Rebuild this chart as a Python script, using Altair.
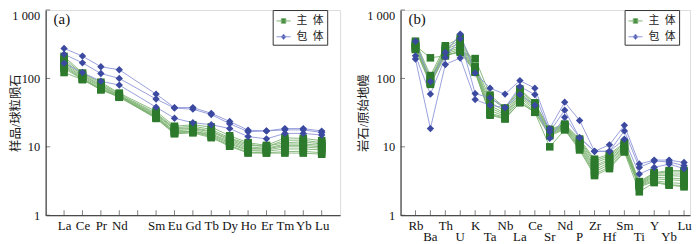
import altair as alt
import pandas as pd

# ---------------- data ----------------
REE = ["La", "Ce", "Pr", "Nd", "Pm", "Sm", "Eu", "Gd", "Tb", "Dy", "Ho", "Er", "Tm", "Yb", "Lu"]
REE_LABELS = ["La", "Ce", "Pr", "Nd", "", "Sm", "Eu", "Gd", "Tb", "Dy", "Ho", "Er", "Tm", "Yb", "Lu"]
REE_USED = ["La", "Ce", "Pr", "Nd", "Sm", "Eu", "Gd", "Tb", "Dy", "Ho", "Er", "Tm", "Yb", "Lu"]

SPIDER = ["Rb", "Ba", "Th", "U", "K", "Ta", "Nb", "La", "Ce", "Sr",
          "Nd", "P", "Zr", "Hf", "Sm", "Ti", "Y", "Yb", "Lu"]

# (a) chondrite-normalised REE, 主体 (host)
ree_main_1 = [210, 120, 88, 61, 33, 20, 21, 19.5, 14.5, 11.5, 10.5, 13.5, 13.3, 12.3]
ree_main_2 = [195, 116, 84, 59, 31, 19, 20, 18, 13.5, 11, 10, 12.5, 12.5, 11.5]
ree_main_3 = [182, 112, 80, 57, 30, 18.5, 19, 17, 13, 10.5, 10.2, 11.5, 11.8, 11]
ree_main_4 = [170, 108, 78, 56, 29, 18, 18.5, 16.5, 12.5, 10, 9.5, 11, 11, 10.5]
ree_main_5 = [162, 104, 75, 55, 28, 17, 18, 15.5, 12, 9.5, 9.3, 10.5, 10.5, 10]
ree_main_6 = [155, 100, 72, 54, 27.5, 16.5, 17, 15, 11.5, 9, 9, 10, 10, 9.5]
ree_main_7 = [148, 98, 70, 54, 27, 16, 17, 14.5, 11, 8.8, 8.6, 9.3, 9.3, 9]
ree_main_8 = [140, 97, 69, 53, 26.5, 15.8, 16.5, 14, 10.5, 8.3, 8.2, 8.5, 8.6, 8.2]
ree_main_9 = [122, 96, 68, 54, 26, 15.5, 16, 13.6, 10.2, 8.1, 8.1, 8.1, 8.1, 7.8]
# (a) 包体 (enclave)
ree_encl_1 = [275, 212, 148, 134, 59, 37.5, 37.5, 30.9, 23.5, 17.5, 17.1, 18.5, 18.5, 17.0]
ree_encl_2 = [226, 169, 118, 100, 50, 36.9, 35.5, 29.6, 21.8, 16.6, 17.1, 17.7, 17.7, 16.2]
ree_encl_3 = [167, 122, 91, 80, 38, 26.2, 22.5, 21.1, 18.5, 14.1, 13.1, 15.7, 15.7, 14.9]

# (b) primitive-mantle-normalised spider, 主体
spd_main_1 = [300, 200, 215, 250, 195, 57, 37, 70, 44, 18, 21.5, 13, 6.6, 7.8, 11.5, 3.1, 4.2, 4.5, 4.5]
spd_main_2 = [350, 110, 300, 390, 150, 52, 36, 66, 43, 17.5, 21, 12.5, 6.2, 7.4, 11, 3.0, 4.1, 4.3, 4.3]
spd_main_3 = [330, 100, 280, 360, 145, 45, 33, 62, 41, 17, 20.5, 12, 5.8, 7.0, 10.5, 2.9, 4.0, 4.0, 4.0]
spd_main_4 = [310, 95, 265, 330, 140, 40, 31, 58, 39, 16.5, 20, 11.5, 5.3, 6.6, 10, 2.85, 3.8, 3.8, 3.7]
spd_main_5 = [295, 90, 250, 300, 135, 37, 29.5, 55, 37, 16, 19.5, 11, 5.0, 6.3, 9.7, 2.8, 3.6, 3.5, 3.4]
spd_main_6 = [285, 88, 240, 280, 130, 34, 28, 52, 35, 15.5, 19, 10.5, 4.6, 5.9, 9.3, 2.75, 3.4, 3.3, 3.2]
spd_main_7 = [275, 85, 228, 265, 128, 31, 27, 48, 33, 15, 18.5, 10, 4.3, 5.5, 9.0, 2.7, 3.2, 3.0, 2.9]
spd_main_8 = [265, 82, 215, 250, 125, 29, 25.5, 45, 32, 14.5, 18, 9.5, 4.0, 5.1, 8.7, 2.6, 3.1, 2.8, 2.7]
spd_main_9 = [270, 100, 220, 240, 123, 30, 26, 44, 32, 10, 17.7, 9.0, 3.8, 4.8, 8.4, 2.2, 3.0, 2.75, 2.6]
# (b) 包体
spd_encl_1 = [350, 90, 239, 445, 120, 72, 59, 93, 72, 18.5, 45, 24.3, 8.6, 10.7, 20.6, 5.6, 6.4, 6.4, 5.9]
spd_encl_2 = [214, 59, 203, 382, 60, 52, 37.5, 76, 58, 16.6, 34.4, 13.6, 8.6, 8.6, 17.1, 5.0, 6.2, 6.0, 5.3]
spd_encl_3 = [192, 18.5, 160, 199, 49, 40.5, 37.5, 58, 40.5, 13.3, 27, 13.6, 8.6, 8.6, 12.9, 4.0, 5.0, 5.6, 4.8]

GROUPS = ["主体", "包体"]
Y_TICKS = [1, 10, 100, 1000]

# ---------------- styling ----------------
FONT = "'Liberation Serif', 'Times New Roman', 'DejaVu Serif', 'Noto Sans CJK SC', serif"
G_FILL, G_LINE = "#2d7a2d", "#7db372"
B_FILL, B_LINE = "#3b4aa0", "#8d95d8"
FRAME = "#4a4a4a"
H = 207


def build_df(main, encl, names, used):
    rows = []
    for g, lst in ((GROUPS[0], main), (GROUPS[1], encl)):
        for k, vals in enumerate(lst):
            for el, v in zip(used, vals):
                rows.append({"group": g, "series": f"{g}{k}", "pos": names.index(el), "value": v})
    return pd.DataFrame(rows)


df_a = build_df([ree_main_1, ree_main_2, ree_main_3, ree_main_4, ree_main_5,
                 ree_main_6, ree_main_7, ree_main_8, ree_main_9],
                [ree_encl_1, ree_encl_2, ree_encl_3], REE, REE_USED)
df_b = build_df([spd_main_1, spd_main_2, spd_main_3, spd_main_4, spd_main_5,
                 spd_main_6, spd_main_7, spd_main_8, spd_main_9],
                [spd_encl_1, spd_encl_2, spd_encl_3], SPIDER, SPIDER)

SQ_PATH = "M-1,0H1M-0.32,-0.32H0.32V0.32H-0.32Z"
DM_PATH = "M-1,0H1M0,-0.38L0.34,0L0,0.38L-0.34,0Z"


def panel(df, names, xdom, width, ytitle, tag, label_expr, bottom_labels, title_x, legend_x):
    x = alt.X("pos:Q",
              scale=alt.Scale(domain=xdom, nice=False, zero=False),
              axis=alt.Axis(values=list(range(len(names))), labelExpr=label_expr,
                            title=None, grid=False, ticks=False,
                            labelFont=FONT, labelFontSize=13, labelColor="#111",
                            labelPadding=4, labelFlush=False,
                            domainColor=FRAME, domainWidth=1.3))
    y = alt.Y("value:Q",
              scale=alt.Scale(type="log", domain=[1, 1000], nice=False),
              axis=alt.Axis(values=Y_TICKS,
                            labelExpr="datum.value == 1000 ? '1 000' : datum.value + ''",
                            labelBaseline={"condition": {"test": "datum.value == 1000", "value": "top"},
                                           "value": "middle"},
                            title=ytitle, titleFont=FONT, titleFontSize=12.5,
                            titleFontWeight="normal", titleColor="#222",
                            titleX=title_x, titleY=H / 2, titleAngle=270,
                            titleAlign="center", titleBaseline="middle",
                            grid=False, ticks=False, labelFont=FONT, labelFontSize=12.5,
                            labelColor="#111", labelPadding=6, labelFlush=False,
                            domainColor=FRAME, domainWidth=1.3))
    base = alt.Chart(df)
    is_main = alt.datum.group == GROUPS[0]
    is_encl = alt.datum.group == GROUPS[1]

    g_lines = base.transform_filter(is_main).mark_line(stroke=G_LINE, strokeWidth=0.9).encode(
        x=x, y=y, detail="series:N", order="pos:Q")
    b_lines = base.transform_filter(is_encl).mark_line(stroke=B_LINE, strokeWidth=0.9).encode(
        x=x, y=y, detail="series:N", order="pos:Q")
    g_pts = base.transform_filter(is_main).mark_point(
        shape="square", filled=True, fill=G_FILL, size=58, opacity=1).encode(x=x, y=y)
    b_pts = base.transform_filter(is_encl).mark_point(
        shape="diamond", filled=True, fill=B_FILL, size=55, opacity=1).encode(x=x, y=y)

    leg = alt.Legend(title=None, orient="none", legendX=legend_x, legendY=0,
                     strokeColor="#333", fillColor="white", padding=3,
                     symbolSize=200, symbolStrokeWidth=1, symbolOpacity=1,
                     labelFont=FONT, labelFontSize=11, labelColor="#222",
                     labelOffset=5, rowPadding=3,
                     labelExpr="datum.label == '主体' ? '主\u2002体\u3000\u2002' : '包\u2002体\u3000\u2002'")
    legend_layer = base.mark_point(filled=True, opacity=0).encode(
        x=x, y=y,
        shape=alt.Shape("group:N", scale=alt.Scale(domain=GROUPS, range=[SQ_PATH, DM_PATH]), legend=leg),
        fill=alt.Fill("group:N", scale=alt.Scale(domain=GROUPS, range=[G_FILL, B_FILL]), legend=leg),
        stroke=alt.Stroke("group:N", scale=alt.Scale(domain=GROUPS, range=[G_LINE, B_LINE]), legend=leg),
    )

    xt = pd.DataFrame({"pos": list(range(len(names)))})
    x_ticks = alt.Chart(xt).mark_tick(orient="vertical", size=5, thickness=1, color=FRAME).encode(
        x=x, y=alt.value(H - 2.5))
    yt = pd.DataFrame({"value": Y_TICKS})
    y_ticks = alt.Chart(yt).mark_tick(orient="horizontal", size=4.5, thickness=1, color=FRAME).encode(
        y=y, x=alt.value(2.25))

    tag_df = pd.DataFrame({"t": [tag]})
    tag_text = alt.Chart(tag_df).mark_text(font=FONT, fontSize=15, align="left", baseline="middle",
                                           color="#111").encode(
        text="t:N", x=alt.value(8), y=alt.value(9))

    layers = [g_lines, b_lines, g_pts, b_pts, legend_layer, x_ticks, y_ticks, tag_text]
    if bottom_labels is not None:
        bl = alt.Chart(bottom_labels).mark_text(font=FONT, fontSize=13, baseline="middle",
                                                align="center", color="#111").encode(
            x=x, y=alt.value(H + 22), text="name:N")
        layers.append(bl)
    return alt.layer(*layers).properties(width=width, height=H)


ree_expr = "[" + ",".join(f"'{s}'" for s in REE_LABELS) + "][datum.value]"
spd_expr = ("datum.value % 2 == 0 ? [" + ",".join(f"'{s}'" for s in SPIDER) +
            "][datum.value] : ''")
odd = [i for i in range(len(SPIDER)) if i % 2 == 1]
bottom_df = pd.DataFrame({"pos": odd, "name": [SPIDER[i] for i in odd]})

title_a = "样品/球粒陨石"
title_b = "岩石/原始地幔"

pa = panel(df_a, REE, [-1, 15], 297, title_a, "(a)", ree_expr, None, -30, 229)
pb = panel(df_b, SPIDER, [-1, 18.4], 292, title_b, "(b)", spd_expr, bottom_df, -37, 226)

chart = alt.hconcat(pa, pb, spacing=16).resolve_scale(
    shape="independent", fill="independent", stroke="independent"
).resolve_legend(shape="independent", fill="independent", stroke="independent").properties(
    padding={"left": 1, "top": 0, "right": 0, "bottom": 0}
).configure_view(stroke=FRAME, strokeWidth=1.3).configure(background="white")

chart.save("out.html", embed_options={"renderer": "svg", "actions": False})
